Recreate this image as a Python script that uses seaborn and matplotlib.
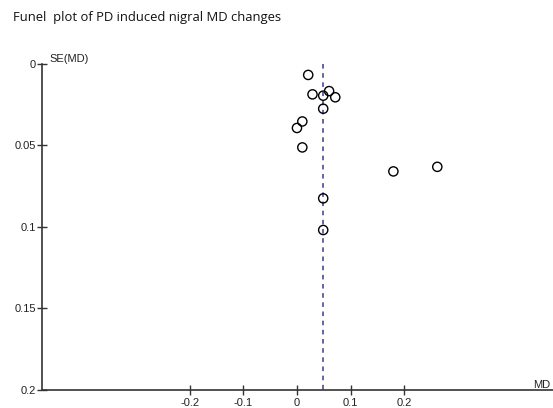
import matplotlib
matplotlib.use("Agg")
import matplotlib.pyplot as plt
import seaborn as sns
import pandas as pd

md = [0.021, 0.029, 0.049, 0.060, 0.0715, 0.049, 0.010, 0.0, 0.010, 0.180, 0.262, 0.049, 0.049]
se_md = [0.0070, 0.0189, 0.0197, 0.0169, 0.0207, 0.0277, 0.0355, 0.0395, 0.0514, 0.0661, 0.0633, 0.0826, 0.102]
pooled_md = 0.049
x_ticks = [-0.2, -0.1, 0, 0.1, 0.2]
x_tick_labels = ["-0.2", "-0.1", "0", "0.1", "0.2"]
y_ticks = [0, 0.05, 0.1, 0.15, 0.2]
y_tick_labels = ["0", "0.05", "0.1", "0.15", "0.2"]
title = "Funel  plot of PD induced nigral MD changes"

df = pd.DataFrame({"MD": md, "SE": se_md})

sns.set_style("white")
plt.rcParams["font.family"] = ["Liberation Sans", "DejaVu Sans"]

fig = plt.figure(figsize=(5.53, 4.08), dpi=100)
ax = fig.add_axes([42 / 553, 18 / 408, (553 - 42) / 553, (390 - 63.5) / 408])

ax.plot([pooled_md, pooled_md], [0.0, 0.2], linestyle=(0, (3, 3)), color="#3a3a8c", linewidth=1.1, zorder=1)
sns.scatterplot(data=df, x="MD", y="SE", ax=ax, marker="o", s=44,
                facecolor="none", edgecolor="black", linewidth=1.0, zorder=3)

ax.set_xlim(-0.476, 0.478)
ax.set_ylim(0.2, 0.0)
ax.set_xticks(x_ticks)
ax.set_xticklabels(x_tick_labels)
ax.set_yticks(y_ticks)
ax.set_yticklabels(y_tick_labels)
ax.set_xlabel("")
ax.set_ylabel("")

for s in ["top", "right"]:
    ax.spines[s].set_visible(False)
for s in ["left", "bottom"]:
    ax.spines[s].set_color("#333333")
    ax.spines[s].set_linewidth(1.2)

ax.tick_params(axis="both", which="major", bottom=True, left=True, direction="inout",
               length=7, width=1, colors="#333333",
               labelsize=8, labelcolor="#222222", pad=1)
ax.tick_params(axis="x", pad=2)
ax.grid(False)

ax.text(0.472, 0.2, "MD", ha="right", va="bottom", fontsize=8, color="#222222",
        transform=ax.transData)
ax.text(0.014, 1.0, "SE(MD)", ha="left", va="bottom", fontsize=8, color="#222222",
        transform=ax.transAxes)

fig.text(13 / 553, 1 - 18 / 408, title, ha="left", va="center", fontsize=9.4,
         family=["Open Sans", "DejaVu Sans"], color="#111111")

fig.savefig("out.png", dpi=100)
